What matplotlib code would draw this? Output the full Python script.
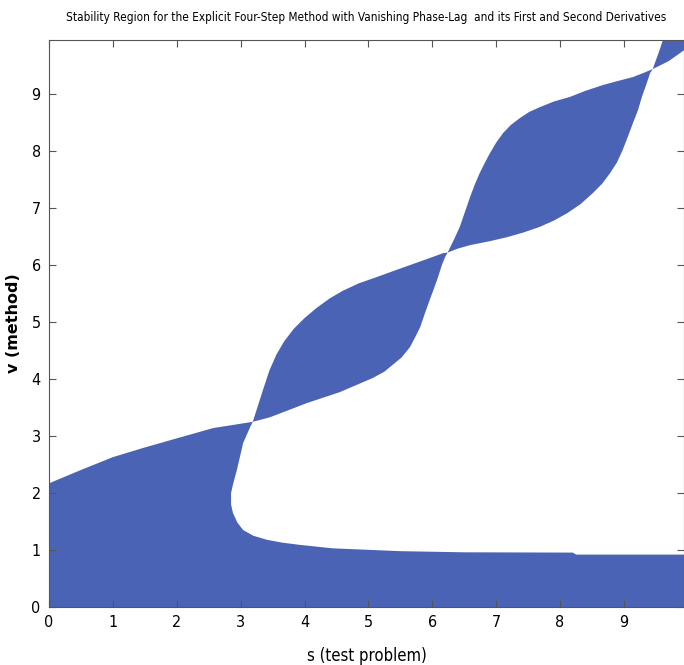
import matplotlib.pyplot as plt
import numpy as np

blue = "#4A63B5"

# lower stable band: top edge (left part), wall of the hole, bottom edge of the hole
band_top_x = [0.0, 0.49, 1.0, 1.47, 2.0, 2.57, 3.19]
band_top_y = [2.17, 2.40, 2.63, 2.79, 2.96, 3.14, 3.25]
wall_x = [3.15, 3.04, 2.94, 2.88, 2.85, 2.85, 2.88, 2.95, 3.04, 3.2, 3.41, 3.65, 3.93, 4.44, 5.07, 5.5, 6.5, 8.2, 8.25, 9.94]
wall_y = [3.16, 2.88, 2.40, 2.15, 2.0, 1.8, 1.65, 1.48, 1.35, 1.25, 1.18, 1.13, 1.09, 1.03, 1.0, 0.98, 0.96, 0.955, 0.92, 0.92]

# first lens (between the crossings near pi and 2*pi)
lens1_up_x = [3.19, 3.35, 3.45, 3.56, 3.68, 3.83, 4.0, 4.19, 4.4, 4.60, 4.85, 5.13, 5.4, 5.65, 5.9, 6.17, 6.24]
lens1_up_y = [3.25, 3.81, 4.15, 4.43, 4.66, 4.88, 5.07, 5.25, 5.42, 5.55, 5.68, 5.79, 5.90, 6.00, 6.10, 6.21, 6.22]
lens1_lo_x = [3.19, 3.46, 4.04, 4.55, 5.07, 5.25, 5.38, 5.52, 5.65, 5.73, 5.81, 5.88, 5.96, 6.03, 6.09, 6.15, 6.20, 6.24]
lens1_lo_y = [3.25, 3.33, 3.58, 3.77, 4.02, 4.13, 4.25, 4.38, 4.56, 4.73, 4.91, 5.14, 5.39, 5.60, 5.79, 6.00, 6.14, 6.22]

# second lens (between 2*pi and 3*pi)
lens2_up_x = [6.24, 6.34, 6.43, 6.51, 6.59, 6.66, 6.74, 6.82, 6.90, 7.0, 7.11, 7.23, 7.37, 7.52, 7.68, 7.9, 8.15, 8.4, 8.67, 8.9, 9.14, 9.3, 9.45]
lens2_up_y = [6.22, 6.45, 6.67, 6.93, 7.19, 7.40, 7.61, 7.79, 7.96, 8.15, 8.32, 8.46, 8.58, 8.69, 8.77, 8.87, 8.95, 9.06, 9.16, 9.23, 9.30, 9.37, 9.44]
lens2_lo_x = [6.24, 6.4, 6.59, 6.9, 7.17, 7.42, 7.68, 7.9, 8.11, 8.32, 8.51, 8.66, 8.78, 8.89, 8.98, 9.06, 9.14, 9.22, 9.28, 9.35, 9.41, 9.45]
lens2_lo_y = [6.22, 6.29, 6.35, 6.42, 6.49, 6.57, 6.67, 6.78, 6.91, 7.07, 7.26, 7.43, 7.61, 7.80, 8.02, 8.25, 8.49, 8.72, 8.95, 9.17, 9.37, 9.44]

# start of third lens in the top right corner
lens3_x = [9.45, 9.55, 9.61, 9.94, 9.94, 9.70, 9.45]
lens3_y = [9.44, 9.75, 9.95, 9.95, 9.77, 9.58, 9.44]

x_ticks = list(range(0, 10))
y_ticks = list(range(0, 10))

fig = plt.figure(figsize=(6.84, 6.65), dpi=100)
ax = fig.add_axes([0.0716, 0.0872, 0.9284, 0.8526])

bx = band_top_x + wall_x + [9.94, 0.0]
by = band_top_y + wall_y + [0.0, 0.0]
ax.fill(bx, by, color=blue, lw=0)
ax.fill(lens1_up_x + lens1_lo_x[::-1], lens1_up_y + lens1_lo_y[::-1], color=blue, lw=0)
ax.fill(lens2_up_x + lens2_lo_x[::-1], lens2_up_y + lens2_lo_y[::-1], color=blue, lw=0)
ax.fill(lens3_x, lens3_y, color=blue, lw=0)

ax.set_xlim(0, 9.94)
ax.set_ylim(0, 9.95)
ax.set_xticks(x_ticks)
ax.set_yticks(y_ticks)
ax.tick_params(direction="in", top=True, right=True, length=5, width=0.8,
               color="#555555", labelsize=11.5, pad=6)
for lab in ax.get_xticklabels() + ax.get_yticklabels():
    lab.set_fontfamily("DejaVu Sans")
    lab.set_fontstretch("condensed")
for sp in ax.spines.values():
    sp.set_color("#555555")
    sp.set_linewidth(0.8)

ax.set_title("Stability Region for the Explicit Four-Step Method with Vanishing Phase-Lag  and its First and Second Derivatives",
             fontsize=8.5, fontstretch="condensed", pad=14, x=0.5)
ax.set_xlabel("s (test problem)", fontsize=12, fontstretch="condensed", labelpad=12)
ax.set_ylabel("v (method)", fontsize=11.5, fontweight="bold")
ax.yaxis.set_label_coords(-0.044, 0.5)

fig.savefig("out.png", dpi=100)
